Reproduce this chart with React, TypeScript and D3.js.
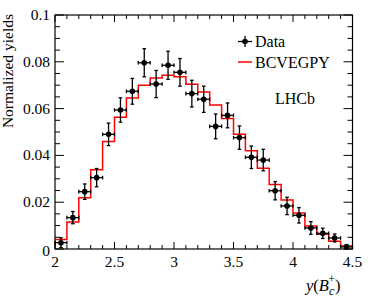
import React from "react";
import * as d3 from "d3";

const binEdges = [2.0, 2.1, 2.2, 2.3, 2.4, 2.5, 2.6, 2.7, 2.8, 2.9, 3.0, 3.1, 3.2, 3.3, 3.4, 3.5, 3.6, 3.7, 3.8, 3.9, 4.0, 4.1, 4.2, 4.3, 4.4, 4.5];
const dataValues = [0.0027, 0.0134, 0.0245, 0.0305, 0.049, 0.0594, 0.0674, 0.0796, 0.0705, 0.0785, 0.0755, 0.0664, 0.064, 0.0524, 0.0571, 0.0476, 0.0392, 0.038, 0.0249, 0.0184, 0.0144, 0.009, 0.0067, 0.0047, 0.0009];
const dataErrors = [0.0021, 0.0026, 0.0033, 0.0039, 0.0048, 0.0052, 0.0055, 0.006, 0.0058, 0.006, 0.0059, 0.0057, 0.0056, 0.0053, 0.0053, 0.005, 0.0048, 0.0046, 0.0039, 0.0037, 0.0033, 0.0027, 0.0022, 0.0017, 0.001];
const mcValues = [0.0041, 0.0115, 0.0219, 0.0339, 0.0459, 0.0563, 0.0645, 0.07, 0.0731, 0.0742, 0.0736, 0.0704, 0.0671, 0.0615, 0.0558, 0.049, 0.042, 0.0345, 0.0276, 0.0209, 0.0154, 0.0098, 0.0063, 0.0033, 0.0013];
const xTickLabels = ["2", "2.5", "3", "3.5", "4", "4.5"];
const yTickLabels = ["0", "0.02", "0.04", "0.06", "0.08", "0.1"];

const W = 392, H = 298;
const L = 55, R = 352.5, T = 15, B = 249;
const FONT = "'Liberation Serif', 'Times New Roman', serif";

export default function App() {
  const x = d3.scaleLinear().domain([2, 4.5]).range([L, R]);
  const y = d3.scaleLinear().domain([0, 0.1]).range([B, T]);

  const xMajor = xTickLabels.map(Number);
  const xMinor = d3.range(0, 26).map((i) => 2 + i * 0.1);
  const yMajor = yTickLabels.map(Number);
  const yMinor = d3.range(0, 21).map((i) => i * 0.005);

  let path = `M${x(binEdges[0])},${y(0)}`;
  mcValues.forEach((v, i) => {
    path += `L${x(binEdges[i])},${y(v)}L${x(binEdges[i + 1])},${y(v)}`;
  });
  path += `L${x(binEdges[binEdges.length - 1])},${y(0)}`;

  const cap = 1.8;
  return (
    <svg width={W} height={H} style={{ position: "absolute", left: 0, top: 0 }} fontFamily={FONT}>
      <rect x={0} y={0} width={W} height={H} fill="white" />
      <defs>
        <clipPath id="clip">
          <rect x={L} y={T} width={R - L} height={B - T} />
        </clipPath>
      </defs>
      <path d={path} fill="none" stroke="#ff0000" strokeWidth={1.5} clipPath="url(#clip)" />
      {dataValues.map((v, i) => {
        const xc = x((binEdges[i] + binEdges[i + 1]) / 2);
        const x0 = x(binEdges[i]);
        const x1 = x(binEdges[i + 1]);
        const yc = y(v);
        const yt = y(v + dataErrors[i]);
        const yb = y(Math.max(0, v - dataErrors[i]));
        return (
          <g key={i} stroke="black" strokeWidth={1.3}>
            <line x1={x0} x2={x1} y1={yc} y2={yc} />
            <line x1={x0} x2={x0} y1={yc - cap} y2={yc + cap} />
            <line x1={x1} x2={x1} y1={yc - cap} y2={yc + cap} />
            <line x1={xc} x2={xc} y1={yt} y2={yb} />
            <line x1={xc - cap} x2={xc + cap} y1={yt} y2={yt} />
            <line x1={xc - cap} x2={xc + cap} y1={yb} y2={yb} />
            <circle cx={xc} cy={yc} r={2.8} fill="black" stroke="none" />
          </g>
        );
      })}
      <rect x={L} y={T} width={R - L} height={B - T} fill="none" stroke="black" strokeWidth={1.2} />
      {xMinor.map((t, i) => {
        const isMajor = i % 5 === 0;
        const len = isMajor ? 7 : 4;
        return (
          <g key={"xt" + i} stroke="black" strokeWidth={1}>
            <line x1={x(t)} x2={x(t)} y1={B} y2={B - len} />
            <line x1={x(t)} x2={x(t)} y1={T} y2={T + len} />
          </g>
        );
      })}
      {yMinor.map((t, i) => {
        const isMajor = i % 4 === 0;
        const len = isMajor ? 9 : 5;
        return (
          <g key={"yt" + i} stroke="black" strokeWidth={1}>
            <line x1={L} x2={L + len} y1={y(t)} y2={y(t)} />
            <line x1={R} x2={R - len} y1={y(t)} y2={y(t)} />
          </g>
        );
      })}
      {xMajor.map((t, i) => (
        <text key={"xl" + i} x={x(t)} y={267} textAnchor="middle" fontSize={15.5}>
          {xTickLabels[i]}
        </text>
      ))}
      {yMajor.map((t, i) => (
        <text key={"yl" + i} x={50} y={i === 0 ? y(t) + 7 : y(t) + 5} textAnchor="end" fontSize={15.5}>
          {yTickLabels[i]}
        </text>
      ))}
      <text transform="translate(13,14) rotate(-90)" textAnchor="end" fontSize={15.5}>
        Normalized yields
      </text>
      <text x={306} y={291} fontSize={16.5}>
        <tspan fontStyle="italic">y</tspan>
        <tspan>(</tspan>
        <tspan fontStyle="italic">B</tspan>
        <tspan fontStyle="italic" fontSize={12} dy={4}>c</tspan>
        <tspan fontSize={12} dx={-6} dy={-12}>+</tspan>
        <tspan dy={8}>)</tspan>
      </text>
      <g stroke="black" strokeWidth={1.3}>
        <line x1={238} x2={252} y1={41.5} y2={41.5} />
        <line x1={245} x2={245} y1={36} y2={47} />
        <circle cx={245} cy={41.5} r={2.8} fill="black" stroke="none" />
      </g>
      <text x={255} y={47} fontSize={16}>Data</text>
      <line x1={238} x2={252} y1={62} y2={62} stroke="#ff0000" strokeWidth={1.5} />
      <text x={255} y={68} fontSize={16}>BCVEGPY</text>
      <text x={275} y={103.5} fontSize={16}>LHCb</text>
    </svg>
  );
}
